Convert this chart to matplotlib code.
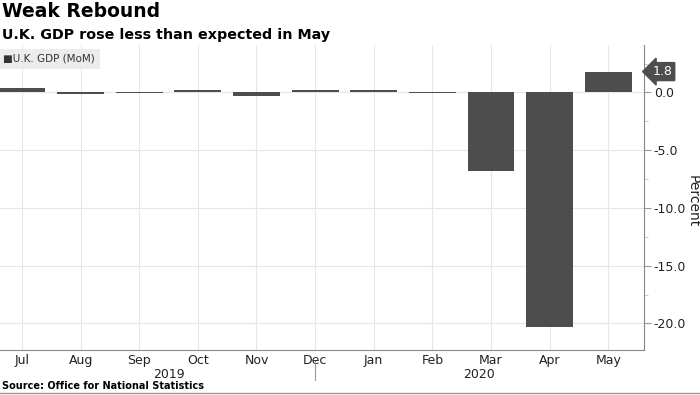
import matplotlib
matplotlib.use("Agg")
import matplotlib.pyplot as plt
import numpy as np

# --- Données ---
months = ["Jul", "Aug", "Sep", "Oct", "Nov", "Dec", "Jan", "Feb", "Mar", "Apr", "May"]
gdp_mom = [0.35, -0.1, -0.05, 0.2, -0.3, 0.2, 0.2, -0.05, -6.8, -20.3, 1.8]
years = ["2019", "2020"]
year_pos = [2.5, 7.8]
y_ticks = [0.0, -5.0, -10.0, -15.0, -20.0]

bar_color = "#4d4d4d"
grid_color = "#e6e6e6"
txt_color = "#222222"

fig = plt.figure(figsize=(7, 3.95), dpi=100)
ax = fig.add_axes([0.0, 0.114, 0.92, 0.772])

x = np.arange(len(months))
ax.bar(x, gdp_mom, width=0.8, color=bar_color, zorder=3)

ax.set_xlim(-0.375, 10.61)
ax.set_ylim(-22.3, 4.1)

# Grille
ax.set_yticks(y_ticks)
ax.set_yticks(np.arange(-20, 2.6, 2.5), minor=True)
ax.set_xticks(x)
ax.grid(True, color=grid_color, linewidth=0.8, zorder=0)

# Axe droit
ax.yaxis.tick_right()
ax.set_yticklabels([f"{v:.1f}" for v in y_ticks], fontsize=9, color=txt_color)
ax.tick_params(axis="y", which="major", length=5, width=0.8, color="#999999", pad=2)
ax.tick_params(axis="y", which="minor", length=3, width=0.8, color="#cccccc")
fig.text(0.989, 0.49, "Percent", rotation=-90, ha="center", va="center",
         fontsize=10, color=txt_color)

for side in ["top", "left"]:
    ax.spines[side].set_visible(False)
ax.spines["right"].set_color("#888888")
ax.spines["bottom"].set_color("#888888")

ax.set_xticklabels(months, fontsize=9, color=txt_color)
ax.tick_params(axis="x", length=0, pad=3)

# Années
for yr, pos in zip(years, year_pos):
    ax.text(pos, -0.058, yr, transform=ax.get_xaxis_transform(), ha="center", va="top",
            fontsize=9, color=txt_color)
ax.plot([5, 5], [-0.035, -0.1], transform=ax.get_xaxis_transform(), color="#999999",
        linewidth=0.8, clip_on=False)

# Étiquette de la dernière valeur
ax.annotate(f"{gdp_mom[-1]:.1f}", xy=(1.0, gdp_mom[-1]), xycoords=("axes fraction", "data"),
            xytext=(6, 0), textcoords="offset points", ha="left", va="center",
            fontsize=9, color="white",
            bbox=dict(boxstyle="larrow,pad=0.2", fc=bar_color, ec=bar_color))

# Légende
ax.text(0.005, 0.955, "\u25a0U.K. GDP (MoM)", transform=ax.transAxes, ha="left", va="center",
        fontsize=7.5, color="#333333",
        bbox=dict(boxstyle="square,pad=0.5", fc="#ececec", ec="none"))

# Titres
fig.text(0.003, 0.995, "Weak Rebound", ha="left", va="top", fontsize=13.5, fontweight="bold")
fig.text(0.003, 0.93, "U.K. GDP rose less than expected in May", ha="left", va="top",
         fontsize=10.3, fontweight="bold")
fig.text(0.003, 0.009, "Source: Office for National Statistics", ha="left", va="bottom",
         fontsize=7, fontweight="bold")
fig.add_artist(plt.Line2D([0, 1], [0.004, 0.004], color="#999999", linewidth=1))

fig.savefig("out.png", dpi=100)
